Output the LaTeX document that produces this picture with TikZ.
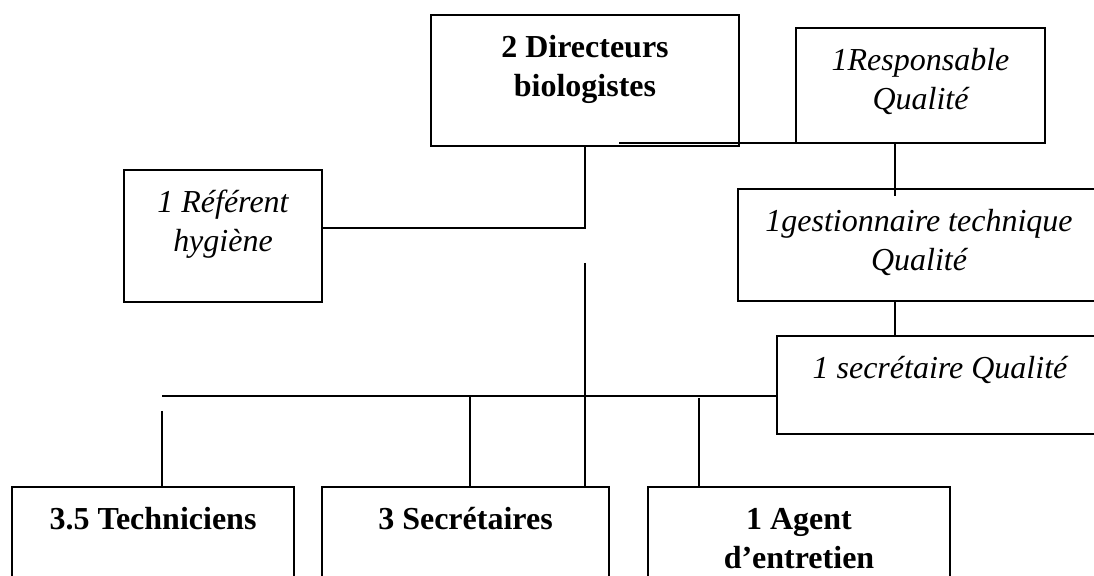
\documentclass[tikz,border=0pt]{standalone}
\usepackage{fontspec}
\setmainfont{Liberation Serif}
\usetikzlibrary{calc}

% text block of a cell: fixed width and height, lines set from the top
\newcommand\cellbox[3]{\parbox[t][#2][t]{#1}{\centering\vspace*{7.4pt}\strut#3}}

\tikzset{
  orgbox/.style={draw, line width=0.9pt, inner sep=0pt, outer sep=0pt,
                 anchor=north west, font=\fontsize{16pt}{19.5pt}\selectfont},
  bossbox/.style={orgbox, font=\fontsize{16pt}{19.5pt}\selectfont\bfseries},
  qualbox/.style={orgbox, font=\fontsize{16pt}{19.5pt}\selectfont\itshape},
  link/.style={line width=0.9pt}
}

\begin{document}
\begin{tikzpicture}[x=0.5pt, y=-0.5pt]
  \useasboundingbox (0,0) rectangle (1094,576);
  \clip (0,0) rectangle (1094,576);

  % cells of the chart
  \node[bossbox] (dir)   at (431,15)  {\cellbox{154pt}{65.5pt}{2 Directeurs\\biologistes}};
  \node[qualbox] (resp)  at (796,28)  {\cellbox{124.5pt}{57.5pt}{1Responsable\\Qualité}};
  \node[qualbox] (ref)   at (124,170) {\cellbox{99pt}{66pt}{1 Référent\\hygiène}};
  \node[qualbox] (gest)  at (738,189) {\cellbox{181pt}{56pt}{1gestionnaire technique\\Qualité}};
  \node[qualbox] (secq)  at (777,336) {\cellbox{163pt}{49pt}{1 secrétaire Qualité}};
  \node[bossbox] (tech)  at (12,487)  {\cellbox{141pt}{60pt}{3.5 Techniciens}};
  \node[bossbox] (secr)  at (322,487) {\cellbox{143.5pt}{60pt}{3 Secrétaires}};
  \node[bossbox] (agent) at (648,487) {\cellbox{151pt}{60pt}{1 Agent\\d’entretien}};

  % joints of the connectors
  \coordinate (dj) at (619,143);
  \coordinate (dh) at (585,228);
  \coordinate (rq) at (895,196);
  \coordinate (mv) at (585,263);
  \coordinate (hl) at (162,396);
  \coordinate (tv) at (162,411);
  \coordinate (sv) at (470,396);
  \coordinate (av) at (699,398);

  % connectors
  \draw[link] (dj) -- (resp.south west);
  \draw[link] (dir.south) -- (dh) -- (dh -| ref.east);
  \draw[link] (resp.south -| rq) -- (rq);
  \draw[link] (gest.south -| rq) -- (secq.north -| rq);
  \draw[link] (mv) -- (mv |- secr.north);
  \draw[link] (hl) -- (hl -| secq.west);
  \draw[link] (tv) -- (tv |- tech.north);
  \draw[link] (sv) -- (sv |- secr.north);
  \draw[link] (av) -- (av |- agent.north);
\end{tikzpicture}
\end{document}
